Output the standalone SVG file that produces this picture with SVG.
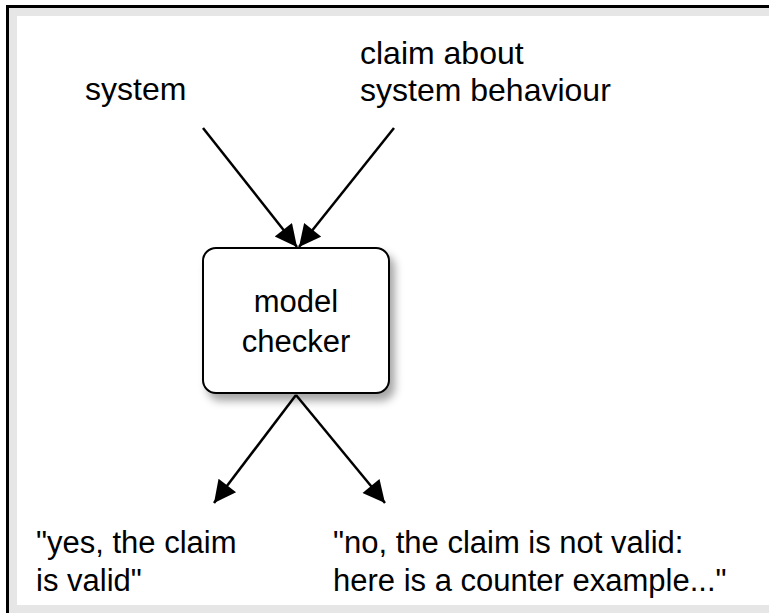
<svg xmlns="http://www.w3.org/2000/svg" width="769" height="613" viewBox="0 0 769 613">
  <defs>
    <style>
      .lbl { font-family: "Liberation Sans", Arial, Helvetica, sans-serif; font-size: 31px; fill: #000; }
      .big { font-size: 32px; }
      .conn { stroke: #000; stroke-width: 2.5; fill: none; }
    </style>
    <marker id="ah" viewBox="0 0 10 10" refX="10" refY="5" markerUnits="userSpaceOnUse" markerWidth="24" markerHeight="22" orient="auto">
      <path d="M0,0 L10,5 L0,10 z" fill="#000"/>
    </marker>
    <filter id="shadow" x="-20%" y="-20%" width="150%" height="150%">
      <feDropShadow dx="5" dy="7" stdDeviation="4" flood-color="#000" flood-opacity="0.35"/>
    </filter>
  </defs>

  <g id="frame">
    <rect x="0" y="0" width="769" height="613" fill="#ffffff"/>
    <rect x="9" y="8" width="760" height="605" fill="#e6e6e6"/>
    <rect x="17" y="16" width="752" height="589" fill="#ffffff"/>
    <path d="M7.5,613 L7.5,6.5 L769,6.5" stroke="#000" stroke-width="3" fill="none"/>
  </g>

  <g id="connectors">
    <line class="conn" x1="203" y1="128" x2="297" y2="247" marker-end="url(#ah)"/>
    <line class="conn" x1="394" y1="128" x2="299" y2="247" marker-end="url(#ah)"/>
    <line class="conn" x1="296" y1="395" x2="214" y2="503" marker-end="url(#ah)"/>
    <line class="conn" x1="296" y1="395" x2="385" y2="503" marker-end="url(#ah)"/>
  </g>

  <g id="model-checker">
    <rect x="203" y="248" width="186" height="145" rx="13" ry="13" fill="#ffffff" stroke="#000" stroke-width="2" filter="url(#shadow)"/>
    <text class="lbl" x="296" y="312" text-anchor="middle">model</text>
    <text class="lbl" x="296" y="352" text-anchor="middle">checker</text>
  </g>

  <g id="system">
    <text class="lbl big" x="85" y="100">system</text>
  </g>

  <g id="claim">
    <text class="lbl big" x="360" y="64">claim about</text>
    <text class="lbl big" x="360" y="101">system behaviour</text>
  </g>

  <g id="yes">
    <text class="lbl" x="36" y="553">"yes, the claim</text>
    <text class="lbl" x="36" y="591">is valid"</text>
  </g>

  <g id="no">
    <text class="lbl" x="333" y="553">"no, the claim is not valid:</text>
    <text class="lbl" x="333" y="591">here is a counter example..."</text>
  </g>
</svg>
